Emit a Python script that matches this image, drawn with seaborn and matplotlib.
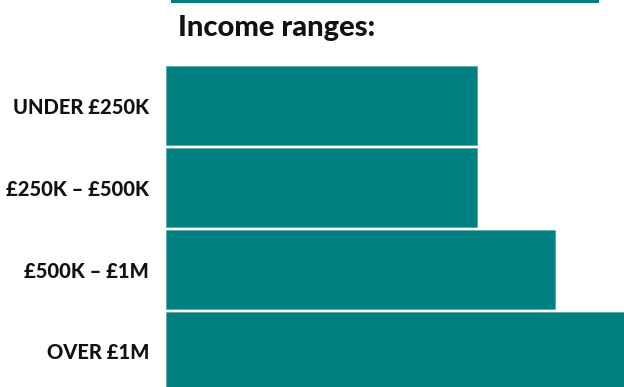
import matplotlib
matplotlib.use('Agg')
import matplotlib.pyplot as plt
import seaborn as sns
import pandas as pd
from matplotlib.patches import Rectangle

categories = ["UNDER £250K", "£250K – £500K", "£500K – £1M", "OVER £1M"]
values = [40, 40, 50, 60]
title = "Income ranges:"

sns.set_theme(style="white")
plt.rcParams['font.family'] = ['Lato', 'DejaVu Sans']

W, H = 624, 387
fig = plt.figure(figsize=(W / 100, H / 100), dpi=100)
ax = fig.add_axes([166 / W, 0, 1 - 166 / W, 1])
df = pd.DataFrame({"cat": categories, "val": values})
sns.barplot(data=df, x="val", y="cat", ax=ax, color="#008080", saturation=1,
            width=0.965, linewidth=0.6, edgecolor="#5fa8a8")

ax.set_xlim(0, 458 / 7.775)
ax.set_ylim(3.433, -1.287)
ax.set_xlabel("")
ax.set_ylabel("")
ax.set_xticks([])
for s in ax.spines.values():
    s.set_visible(False)
ax.tick_params(axis='y', length=0, pad=12.2)
for lab in ax.get_yticklabels():
    lab.set_fontsize(14.5)
    lab.set_fontweight('black')
    lab.set_color('#111111')

fig.text(178 / W, 1 - 36 / H, title, fontsize=21, fontweight='black',
         color='#111111', ha='left', va='baseline')
fig.add_artist(Rectangle((171 / W, 1 - 2.5 / H), (599 - 171) / W, 2.5 / H,
                         transform=fig.transFigure, color='#008080', lw=0))

fig.savefig("out.png", dpi=100)
